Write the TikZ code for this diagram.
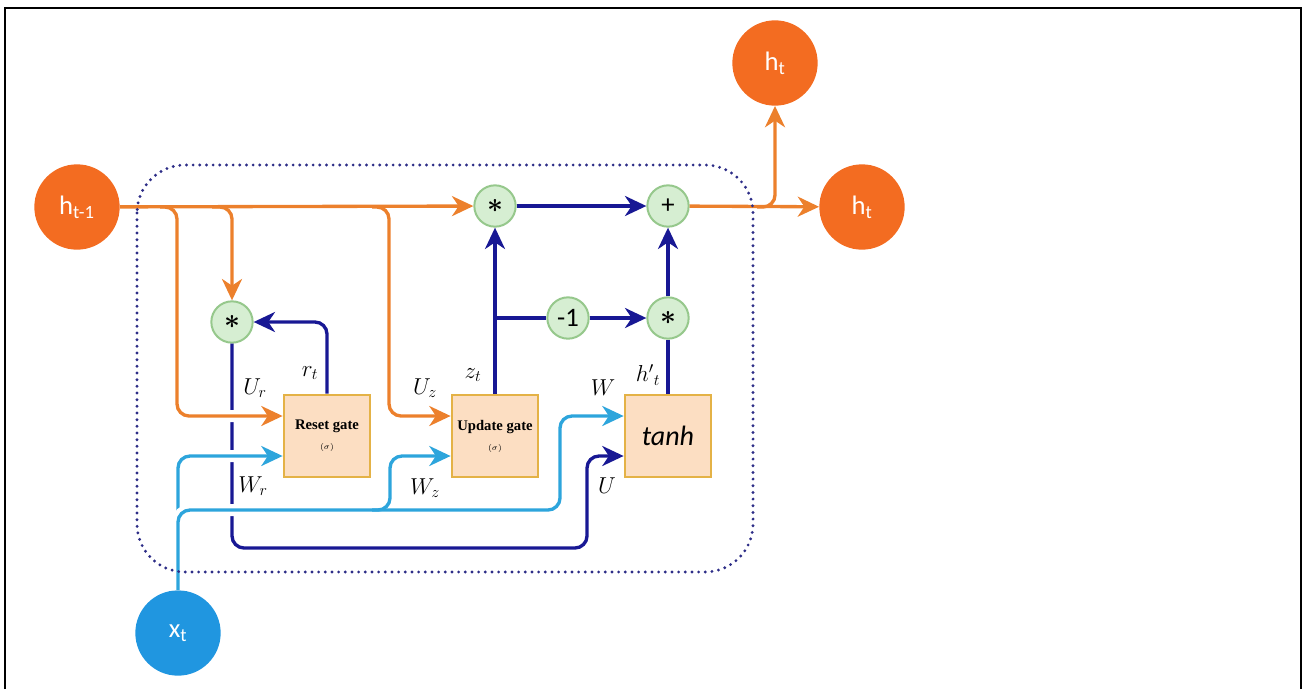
\documentclass[tikz,border=0pt]{standalone}
\usepackage{amsmath}
\usepackage{fontspec}
\usepackage{tikz}
\usetikzlibrary{arrows.meta,positioning}
\newfontfamily\circfont{Carlito}
\newfontfamily\gatefont{Liberation Serif}
\definecolor{hOrange}{RGB}{243,108,33}
\definecolor{wOrange}{RGB}{236,128,44}
\definecolor{xBlue}{RGB}{32,150,224}
\definecolor{wLight}{RGB}{45,165,220}
\definecolor{wDark}{RGB}{24,24,148}
\definecolor{opEdge}{RGB}{150,200,140}
\definecolor{opFill}{RGB}{214,238,210}
\definecolor{gateEdge}{RGB}{228,178,70}
\definecolor{gateFill}{RGB}{252,222,194}
\definecolor{boxDots}{RGB}{45,45,135}

\begin{document}
\begin{tikzpicture}[
x=0.75pt, y=-0.75pt,
io/.style={circle, fill=hOrange, text=white, minimum size=64pt, inner sep=0pt, font=\circfont\fontsize{20}{22}\selectfont},
xin/.style={io, fill=xBlue},
op/.style={circle, draw=opEdge, fill=opFill, line width=1.5pt, minimum size=31pt, inner sep=0pt, font=\circfont\fontsize{20}{22}\selectfont},
gate/.style={draw=gateEdge, fill=gateFill, line width=1.6pt, minimum width=65pt, minimum height=62pt, align=center, inner sep=1pt},
lbl/.style={font=\fontsize{17}{19}\selectfont},
wire/.style={line width=2.5pt, rounded corners=9pt},
owire/.style={wire, draw=wOrange},
lwire/.style={wire, draw=wLight},
dwire/.style={wire, draw=wDark},
halo/.style={preaction={draw=white, line width=9pt, arrows=-}},
arrow/.style={-{Stealth[length=16pt, width=15pt, inset=5pt]}},
dotbox/.style={draw=boxDots, line width=2.4pt, line cap=round, dash pattern=on 0pt off 5pt, rounded corners=36pt}
]
\useasboundingbox (0,0) rectangle (1303,689);
\draw[line width=2.2pt] (5,689) -- (5,8) -- (1301,8) -- (1301,689);

% inputs and outputs
\node[io] (hprev) at (77,207) {h\textsubscript{t-1}};
\node[io] (hout) at (862,207) {h\textsubscript{t}};
\node[io] (htop) at (775,63) {h\textsubscript{t}};
\node[xin] (xt) at (178,633) {x\textsubscript{t}};

% pointwise ops
\node[op] (mr) at (232,322) {$\boldsymbol{\ast}$};
\node[op] (mz) at (495,206) {$\boldsymbol{\ast}$};
\node[op] (add) at (668,206) {+};
\node[op] (neg) at (568,318) {-1};
\node[op] (mh) at (668,318) {$\boldsymbol{\ast}$};

% gates
\node[gate] (reset) at (327,436) {{\gatefont\bfseries\fontsize{11}{12}\selectfont Reset gate}\\[3pt]{\fontsize{6}{7}\selectfont ($\sigma$)}};
\node[gate] (update) at (495,436) {{\gatefont\bfseries\fontsize{11}{12}\selectfont Update gate}\\[3pt]{\fontsize{6}{7}\selectfont ($\sigma$)}};
\node[gate] (cand) at (668,436) {\circfont\itshape\fontsize{21}{23}\selectfont tanh};

\coordinate (ubend) at (587,548);
\coordinate (ubr) at (160,207);
\coordinate (mrbr) at (212,207);
\coordinate (uzbr) at (372,207);
\coordinate (hbr) at (757,207);
\coordinate (wbus) at (560,510);
\coordinate (wzbr) at (372,510);

% dark blue wires
\draw[dwire, arrow] (mr) |- (ubend) |- ([yshift=-15pt]cand.west);
\draw[dwire, arrow] (reset) |- (mr);
\draw[dwire, arrow] (update) -- (mz);
\draw[dwire] (cand) -- (mh);
\draw[dwire] (mz |- neg) -- (neg);
\draw[dwire, arrow] (neg) -- (mh);
\draw[dwire, arrow] (mh) -- (add);
\draw[dwire, arrow] (mz) -- (add);

% orange wires
\draw[owire, halo, arrow] (ubr) -- ++(17,0) |- ([yshift=15pt]reset.west);
\draw[owire, arrow] (mrbr) -| (mr);
\draw[owire, arrow] (uzbr) -- ++(17,0) |- ([yshift=15pt]update.west);
\draw[owire, arrow] (hprev) -- (mz);
\draw[owire, arrow] (add) -- (hout);
\draw[owire, arrow] (hbr) -| (htop);

% light blue wires
\draw[lwire, halo, arrow] (xt) |- ([yshift=-15pt]reset.west);
\draw[lwire, halo, arrow] (xt) |- (wbus) |- ([yshift=15pt]cand.west);
\draw[lwire, arrow] (wzbr) -- ++(18,0) |- ([yshift=-15pt]update.west);

% weights and signals
\node[lbl] (lur) at (255,388) {$U_r$};
\node[lbl] (lrt) at (310,373) {$r_t$};
\node[lbl] (luz) at (425,388) {$U_z$};
\node[lbl] (lzt) at (473,375) {$z_t$};
\node[lbl] (lw) at (603,388) {$W$};
\node[lbl] (lht) at (648,375) {$h'{}_t$};
\node[lbl] (lwr) at (253,486) {$W_r$};
\node[lbl] (lwz) at (425,488) {$W_z$};
\node[lbl] (lu) at (607,486) {$U$};

\draw[dotbox] (137,165) rectangle (753,572);
\end{tikzpicture}
\end{document}
